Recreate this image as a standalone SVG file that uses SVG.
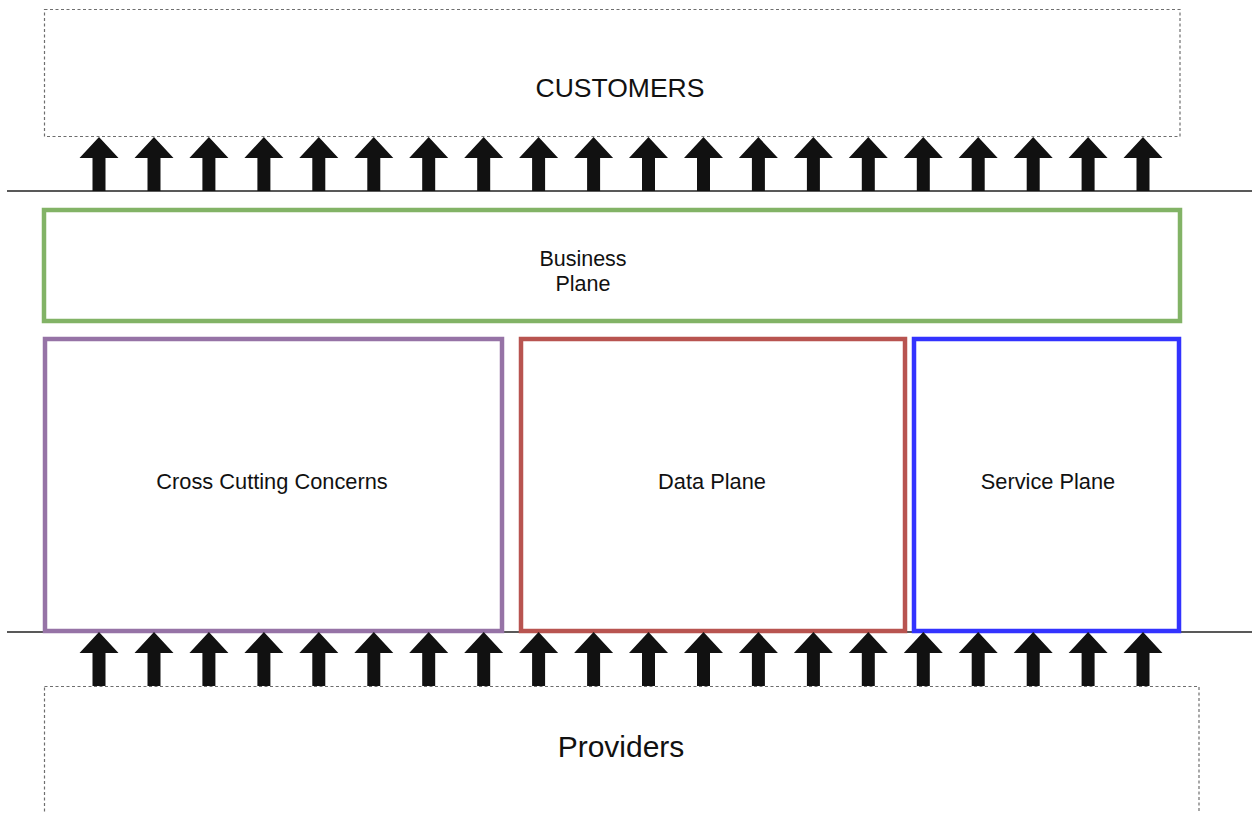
<svg xmlns="http://www.w3.org/2000/svg" xmlns:xlink="http://www.w3.org/1999/xlink" width="1252" height="813" viewBox="0 0 1252 813">
  <style>
    .lbl { font-family: "Liberation Sans", Arial, Helvetica, sans-serif; fill: #111; text-anchor: middle; }
    .edge { fill: none; stroke: #6e6e6e; stroke-width: 1.2; stroke-dasharray: 3 2.5; }
    .plane { fill: none; stroke-width: 4.5; }
    .rule { stroke: #222; stroke-width: 1.5; }
    .flow { fill: #111; }
  </style>
  <defs>
    <!-- upward block arrow, tip at origin -->
    <path id="up" class="flow" d="M0,0 L19.5,21 L6.5,21 L6.5,54 L-6.5,54 L-6.5,21 L-19.5,21 Z"/>
  </defs>
  <rect width="1252" height="813" fill="#ffffff"/>

  <!-- boundary rules -->
  <g id="rules">
    <line class="rule" x1="7" y1="191" x2="1252" y2="191"/>
    <line class="rule" x1="7" y1="632" x2="1252" y2="632"/>
  </g>

  <g id="customers">
    <rect class="edge" x="44.5" y="9.5" width="1135.5" height="127"/>
    <text class="lbl" x="620" y="97" font-size="26.5">CUSTOMERS</text>
  </g>

  <g id="business-plane">
    <rect class="plane" x="44" y="210" width="1136" height="111" stroke="#82b366"/>
    <text class="lbl" x="583" y="266" font-size="21.5">Business</text>
    <text class="lbl" x="583" y="291" font-size="21.5">Plane</text>
  </g>

  <g id="cross-cutting">
    <rect class="plane" x="45" y="339" width="457" height="292" stroke="#9673a6"/>
    <text class="lbl" x="272" y="489" font-size="21.8">Cross Cutting Concerns</text>
  </g>

  <g id="data-plane">
    <rect class="plane" x="521" y="339" width="384" height="292" stroke="#b85450"/>
    <text class="lbl" x="712" y="489" font-size="21.8">Data Plane</text>
  </g>

  <g id="service-plane">
    <rect class="plane" x="914" y="339" width="265" height="292" stroke="#3333ff"/>
    <text class="lbl" x="1048" y="489" font-size="21.8">Service Plane</text>
  </g>

  <g id="providers">
    <rect class="edge" x="44.5" y="686.5" width="1154.5" height="140"/>
    <text class="lbl" x="621" y="757" font-size="30">Providers</text>
  </g>

  <!-- flows upward into the customers -->
  <g id="connectors">
    <g id="top-flows">
      <use xlink:href="#up" x="99" y="137"/>
      <use xlink:href="#up" x="154" y="137"/>
      <use xlink:href="#up" x="208.9" y="137"/>
      <use xlink:href="#up" x="263.9" y="137"/>
      <use xlink:href="#up" x="318.8" y="137"/>
      <use xlink:href="#up" x="373.8" y="137"/>
      <use xlink:href="#up" x="428.7" y="137"/>
      <use xlink:href="#up" x="483.7" y="137"/>
      <use xlink:href="#up" x="538.6" y="137"/>
      <use xlink:href="#up" x="593.6" y="137"/>
      <use xlink:href="#up" x="648.5" y="137"/>
      <use xlink:href="#up" x="703.5" y="137"/>
      <use xlink:href="#up" x="758.4" y="137"/>
      <use xlink:href="#up" x="813.4" y="137"/>
      <use xlink:href="#up" x="868.3" y="137"/>
      <use xlink:href="#up" x="923.3" y="137"/>
      <use xlink:href="#up" x="978.2" y="137"/>
      <use xlink:href="#up" x="1033.2" y="137"/>
      <use xlink:href="#up" x="1088.1" y="137"/>
      <use xlink:href="#up" x="1143" y="137"/>
    </g>
    <g id="bottom-flows">
      <use xlink:href="#up" x="99" y="632"/>
      <use xlink:href="#up" x="154" y="632"/>
      <use xlink:href="#up" x="208.9" y="632"/>
      <use xlink:href="#up" x="263.9" y="632"/>
      <use xlink:href="#up" x="318.8" y="632"/>
      <use xlink:href="#up" x="373.8" y="632"/>
      <use xlink:href="#up" x="428.7" y="632"/>
      <use xlink:href="#up" x="483.7" y="632"/>
      <use xlink:href="#up" x="538.6" y="632"/>
      <use xlink:href="#up" x="593.6" y="632"/>
      <use xlink:href="#up" x="648.5" y="632"/>
      <use xlink:href="#up" x="703.5" y="632"/>
      <use xlink:href="#up" x="758.4" y="632"/>
      <use xlink:href="#up" x="813.4" y="632"/>
      <use xlink:href="#up" x="868.3" y="632"/>
      <use xlink:href="#up" x="923.3" y="632"/>
      <use xlink:href="#up" x="978.2" y="632"/>
      <use xlink:href="#up" x="1033.2" y="632"/>
      <use xlink:href="#up" x="1088.1" y="632"/>
      <use xlink:href="#up" x="1143" y="632"/>
    </g>
  </g>
</svg>
